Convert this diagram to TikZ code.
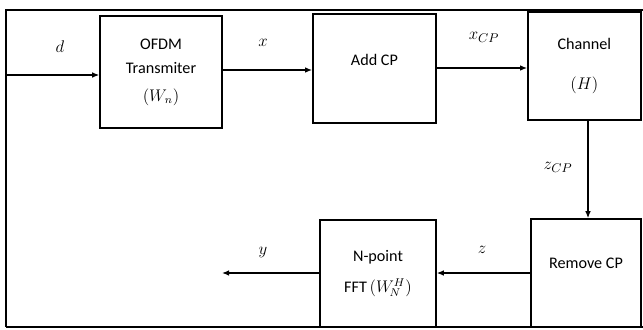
\documentclass[tikz,border=0pt]{standalone}
\usepackage{fontspec}
\setmainfont{Carlito}
\usetikzlibrary{positioning,arrows.meta}

\begin{document}
\begin{tikzpicture}[
  every node/.style={font=\fontsize{11.5}{17}\selectfont},
  blk/.style={draw, line width=1.1pt, align=center, inner sep=0pt},
  sig/.style={-{Latex[length=5pt,width=4pt]}, line width=0.9pt},
  lbl/.style={font=\fontsize{12.5}{14}\selectfont}
]
\useasboundingbox (0,0) rectangle (16.075,-8.225);

% frame
\draw[line width=1.4pt] (0.15,-8.175) -- (0.15,-0.25) -- (16.2,-0.25);
\draw[line width=1.4pt] (0.15,-8.175) -- (16.2,-8.175);

% OFDM transmitter
\node[blk, minimum width=3.05cm, minimum height=2.8cm] (ofdm) at (4.025,-1.8)
  {OFDM\\Transmiter\\[3pt]$(W_n)$};

% add CP
\node[blk, minimum width=3.075cm, minimum height=2.725cm, text depth=0.45cm] (addcp) at (9.36,-1.71)
  {Add CP};

% channel
\node[blk, minimum width=2.825cm, minimum height=2.7cm] (chan) at (14.61,-1.65)
  {Channel\\[11pt]$(H)$};

% remove CP
\node[blk, minimum width=2.75cm, minimum height=2.7cm, text depth=0.5cm] (rmcp) at (14.65,-6.825)
  {Remove CP};

% N-point FFT
\node[blk, minimum width=2.9cm, minimum height=2.675cm] (fft) at (9.45,-6.84)
  {N-point\\[5pt]FFT\,$\bigl(W_{\!N}^{H}\bigr)$};

% input d
\coordinate (din) at (0.15,-1.875);
\draw[sig] (din) -- (din -| ofdm.west);
\node[lbl] (ld) at (1.5,-1.175) {$d$};

% x
\draw[sig] ([yshift=0.05cm]ofdm.east) -- ([yshift=0.05cm]ofdm.east -| addcp.west);
\node[lbl] (lx) at (6.575,-1.075) {$x$};

% x_CP
\draw[sig] ([yshift=0.01cm]addcp.east) -- ([yshift=0.01cm]addcp.east -| chan.west);
\node[lbl] (lxcp) at (12.1,-0.925) {$x_{CP}$};

% z_CP
\draw[sig] ([xshift=0.09cm]chan.south) -- ([xshift=0.09cm]chan.south |- rmcp.north);
\node[lbl] (lzcp) at (13.95,-4.175) {$z_{CP}$};

% z
\draw[sig] (rmcp.west) -- (rmcp.west -| fft.east);
\node[lbl] (lz) at (12.05,-6.25) {$z$};

% output y
\coordinate (yout) at (5.55,-6.825);
\draw[sig] (fft.west |- yout) -- (yout);
\node[lbl] (ly) at (6.575,-6.325) {$y$};
\end{tikzpicture}
\end{document}
